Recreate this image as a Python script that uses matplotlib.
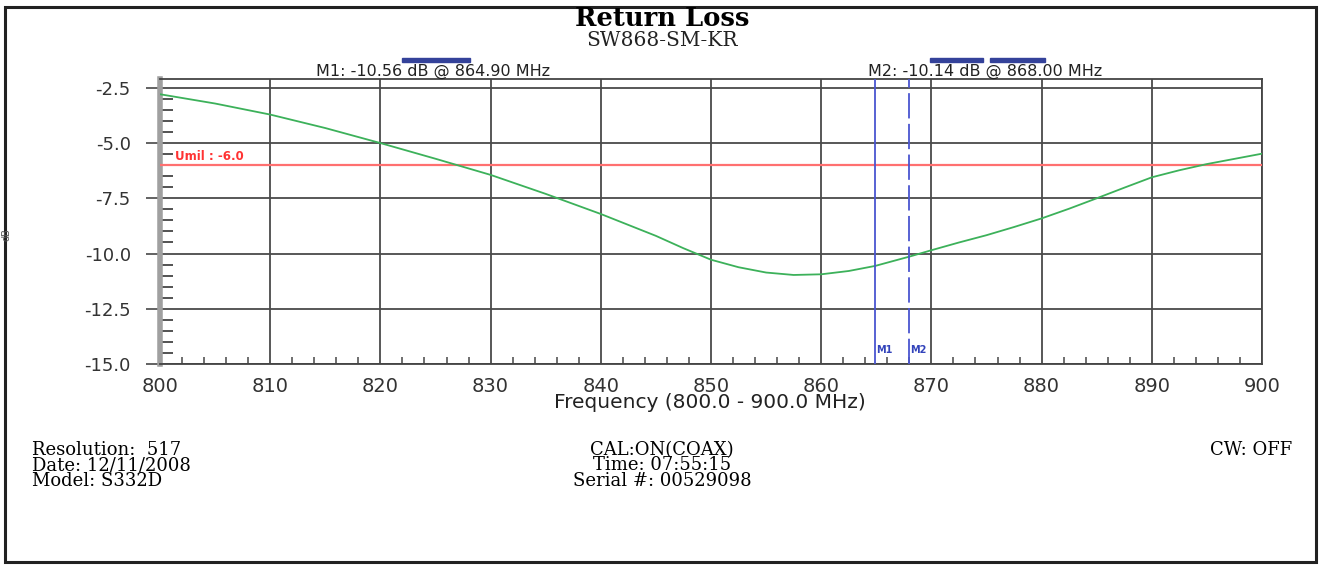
import numpy as np
import matplotlib
matplotlib.use('Agg')
import matplotlib.pyplot as plt
from matplotlib.ticker import MultipleLocator, FormatStrFormatter
from matplotlib.patches import Rectangle

# trace (MHz, dB)
freq = [800, 805, 810, 815, 820, 825, 830, 835, 840, 845, 847.5, 850, 852.5,
        855, 857.5, 860, 862.5, 864.9, 868, 870, 872.5, 875, 877.5, 880,
        882.5, 885, 887.5, 890, 892.5, 895, 900]
rl_db = [-2.79, -3.21, -3.71, -4.32, -5.0, -5.71, -6.44, -7.30, -8.21, -9.2,
         -9.76, -10.28, -10.62, -10.86, -10.97, -10.94, -10.79, -10.56, -10.14,
         -9.85, -9.5, -9.17, -8.8, -8.41, -7.97, -7.5, -7.02, -6.55, -6.23,
         -5.95, -5.48]

limit_db = -6.0
markers = {'M1': (864.90, -10.56), 'M2': (868.00, -10.14)}

title = 'Return Loss'
subtitle = 'SW868-SM-KR'
info_left = ['Resolution:  517', 'Date: 12/11/2008', 'Model: S332D']
info_mid = ['CAL:ON(COAX)', 'Time: 07:55:15', 'Serial #: 00529098']
info_right = 'CW: OFF'

W, H = 1322, 565
fig = plt.figure(figsize=(W / 100, H / 100), dpi=100)

def fx(px):
    return px / W

def fy(py):
    return 1 - py / H

ax = fig.add_axes([fx(160), fy(364), fx(1262) - fx(160), fy(79) - fy(364)])

ax.plot(freq, rl_db, color='#3cb15a', lw=1.3, zorder=4)
ax.axhline(limit_db, color='#ff7070', lw=1.6, zorder=3)
ax.text(801.4, limit_db + 0.1, 'Umil : -6.0', color='#ff3333', fontsize=8.5,
        fontweight='bold', family='DejaVu Sans', va='bottom', ha='left')

ax.axvline(markers['M1'][0], color='#4a55d0', lw=1.3, zorder=5)
ax.axvline(markers['M2'][0], color='#4a55d0', lw=1.3, dashes=(14, 3), zorder=5)
for name, (f, v) in markers.items():
    ax.text(f + 0.05, -14.6, name, color='#3344bb', fontsize=7,
            fontweight='bold', family='DejaVu Sans', va='bottom', ha='left', zorder=6)

ax.set_xlim(800, 900)
ax.set_ylim(-15, -2.1)
ax.xaxis.set_major_locator(MultipleLocator(10))
ax.xaxis.set_minor_locator(MultipleLocator(2))
ax.yaxis.set_major_locator(MultipleLocator(2.5))
ax.yaxis.set_minor_locator(MultipleLocator(0.5))
ax.yaxis.set_major_formatter(FormatStrFormatter('%.1f'))
ax.grid(True, which='major', color='#4a4a4a', lw=1.3)

ax.tick_params(axis='y', which='major', direction='out', length=10, width=1.3,
               color='#555555', pad=11, labelsize=13, labelcolor='#333333')
ax.tick_params(axis='y', which='minor', direction='in', length=9, width=1.3,
               color='#444444')
ax.tick_params(axis='x', which='major', length=0, pad=9, labelsize=14,
               labelcolor='#333333')
ax.tick_params(axis='x', which='minor', direction='in', length=5, width=1.2,
               color='#555555')
for lab in ax.get_xticklabels() + ax.get_yticklabels():
    lab.set_family('DejaVu Sans')

for s in ['top', 'right', 'bottom']:
    ax.spines[s].set_color('#444444')
    ax.spines[s].set_linewidth(1.3)
ax.spines['left'].set_color('#a0a0a0')
ax.spines['left'].set_linewidth(4)

fig.text(fx(710), fy(403), 'Frequency (800.0 - 900.0 MHz)', ha='center', va='center',
         fontsize=14.5, family='DejaVu Sans', color='#222222')

# header
fig.text(fx(662), fy(19), title, ha='center', va='center', fontsize=18.5,
         fontweight='bold', family='DejaVu Serif')
fig.text(fx(662), fy(40), subtitle, ha='center', va='center', fontsize=14.5,
         family='DejaVu Serif', color='#222222')

# marker readouts with their bars
fig.text(fx(433), fy(71), 'M1: -10.56 dB @ 864.90 MHz', ha='center', va='center',
         fontsize=11.5, family='DejaVu Sans', color='#222222')
fig.text(fx(985), fy(71), 'M2: -10.14 dB @ 868.00 MHz', ha='center', va='center',
         fontsize=11.5, family='DejaVu Sans', color='#222222')
for x0, x1 in [(402, 470), (930, 983), (990, 1045)]:
    fig.patches.append(Rectangle((fx(x0), fy(62)), fx(x1) - fx(x0), 4 / H,
                                 transform=fig.transFigure, color='#34429a'))

fig.text(fx(2), fy(235), 'dB', rotation=90, ha='left', va='center', fontsize=7,
         family='DejaVu Sans', color='#555555')

# footer
for i, s in enumerate(info_left):
    fig.text(fx(32), fy(450 + i * 15.5), s, ha='left', va='center', fontsize=13,
             family='DejaVu Serif')
for i, s in enumerate(info_mid):
    fig.text(fx(662), fy(450 + i * 15.5), s, ha='center', va='center', fontsize=13,
             family='DejaVu Serif')
fig.text(fx(1292), fy(450), info_right, ha='right', va='center', fontsize=13,
         family='DejaVu Serif')

fig.patches.append(Rectangle((fx(5), fy(562)), fx(1316) - fx(5), fy(7) - fy(562),
                             transform=fig.transFigure, fill=False,
                             edgecolor='#222222', lw=2.2))

fig.savefig('out.png', dpi=100)
